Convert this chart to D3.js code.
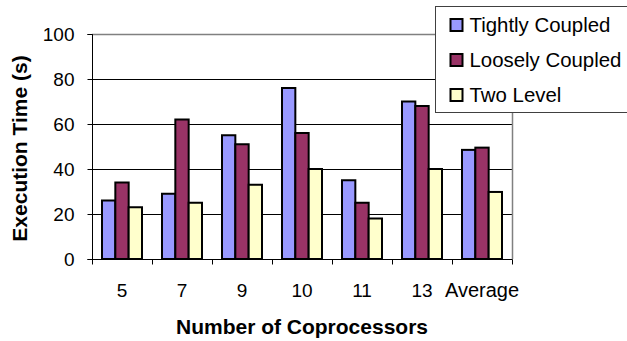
<!DOCTYPE html>
<html>
<head>
<meta charset="utf-8">
<script src="https://cdn.jsdelivr.net/npm/d3@7"></script>
<style>
  html, body { margin: 0; padding: 0; background: #fff; }
  svg { display: block; font-family: "Liberation Sans", Arial, sans-serif; }
</style>
</head>
<body>
<svg id="chart" width="627" height="341"></svg>
<script>
// Execution time per coprocessor count, three architectures
const categories = ["5", "7", "9", "10", "11", "13", "Average"];
const seriesNames = ["Tightly Coupled", "Loosely Coupled", "Two Level"];
const tightlyCoupled = [26, 29, 55, 76, 35, 70, 48.5];
const looselyCoupled = [34, 62, 51, 56, 25, 68, 49.5];
const twoLevel = [23, 25, 33, 40, 18, 40, 29.8];
const yTicks = [0, 20, 40, 60, 80, 100];
const colors = ["#9999ff", "#993366", "#ffffcc"];

const seriesValues = [tightlyCoupled, looselyCoupled, twoLevel];
const rows = categories.map((c, i) => ({
  category: c,
  values: seriesNames.map((s, k) => ({ series: s, value: seriesValues[k][i] }))
}));

const svg = d3.select("#chart");
const plot = { left: 92, right: 512, top: 34, bottom: 259 };

const x0 = d3.scaleBand()
  .domain(categories)
  .range([plot.left, plot.right])
  .paddingInner(1 / 3)
  .paddingOuter(1 / 6);
const x1 = d3.scaleBand()
  .domain(seriesNames)
  .range([0, x0.bandwidth()]);
const y = d3.scaleLinear().domain([0, 100]).range([plot.bottom, plot.top]);
const color = d3.scaleOrdinal().domain(seriesNames).range(colors);

// Horizontal gridlines
svg.append("g")
  .selectAll("line")
  .data(yTicks.filter(t => t > 0 && t < 100))
  .join("line")
  .attr("x1", plot.left).attr("x2", plot.right)
  .attr("y1", d => y(d) + 0.5).attr("y2", d => y(d) + 0.5)
  .attr("stroke", "#000").attr("stroke-width", 1);

// Plot area border (top and right)
svg.append("path")
  .attr("d", `M${plot.left},${y(100) + 0.5}H${plot.right + 0.5}V${plot.bottom}`)
  .attr("fill", "none").attr("stroke", "#808080").attr("stroke-width", 1.5);

// Bars
const groups = svg.append("g")
  .selectAll("g")
  .data(rows)
  .join("g")
  .attr("transform", d => `translate(${x0(d.category)},0)`);

groups.selectAll("rect")
  .data(d => d.values)
  .join("rect")
  .attr("x", d => x1(d.series))
  .attr("y", d => y(d.value))
  .attr("width", x1.bandwidth())
  .attr("height", d => y(0) - y(d.value))
  .attr("fill", d => color(d.series))
  .attr("stroke", "#000")
  .attr("stroke-width", 2);

// Y axis
const yAxis = svg.append("g")
  .attr("transform", `translate(${plot.left + 0.5},0)`)
  .call(d3.axisLeft(y).tickValues(yTicks).tickSize(5).tickPadding(13).tickFormat(d3.format("d")));
yAxis.select(".domain").attr("stroke", "#000").attr("d", `M-5,${y(100) + 0.5}H0V${y(0) + 0.5}H-5`);
yAxis.selectAll(".tick line").attr("stroke", "#000");
yAxis.selectAll(".tick text")
  .attr("font-size", 19).attr("fill", "#000")
  .attr("font-family", "Liberation Sans, Arial, sans-serif");

// X axis: ticks at category boundaries, labels at category centres
const xEdge = d3.scaleLinear().domain([0, categories.length]).range([plot.left, plot.right]);
const xAxis = svg.append("g")
  .attr("transform", `translate(0,${plot.bottom + 0.5})`)
  .call(d3.axisBottom(xEdge).tickValues(d3.range(categories.length + 1)).tickSize(5).tickFormat(""));
xAxis.select(".domain").attr("stroke", "#000").attr("d", `M${plot.left},0H${plot.right + 0.5}`);
xAxis.selectAll(".tick line").attr("stroke", "#000");

svg.append("g")
  .selectAll("text")
  .data(categories)
  .join("text")
  .attr("x", d => x0(d) + x0.bandwidth() / 2)
  .attr("y", 297)
  .attr("text-anchor", "middle")
  .attr("font-size", d => isNaN(+d) ? 20 : 19)
  .text(d => d);

// Axis titles
svg.append("text")
  .attr("x", (plot.left + plot.right) / 2)
  .attr("y", 333.5)
  .attr("text-anchor", "middle")
  .attr("font-size", 21)
  .attr("font-weight", "bold")
  .text("Number of Coprocessors");

svg.append("text")
  .attr("transform", `translate(26.5,148.5) rotate(-90)`)
  .attr("text-anchor", "middle")
  .attr("font-size", 21)
  .attr("font-weight", "bold")
  .text("Execution Time (s)");

// Legend
const legend = svg.append("g");
legend.append("rect")
  .attr("x", 435.5).attr("y", 6.5)
  .attr("width", 200).attr("height", 106)
  .attr("fill", "#fff").attr("stroke", "#404040").attr("stroke-width", 1);

const items = legend.selectAll("g.item")
  .data(seriesNames)
  .join("g")
  .attr("class", "item")
  .attr("transform", (d, i) => `translate(0,${25 + i * 35})`);
items.append("rect")
  .attr("x", 450.5).attr("y", -6)
  .attr("width", 12).attr("height", 12)
  .attr("fill", d => color(d))
  .attr("stroke", "#000").attr("stroke-width", 2);
items.append("text")
  .attr("x", 469.5)
  .attr("y", 7)
  .attr("font-size", 20.4)
  .text(d => d);
</script>
</body>
</html>
